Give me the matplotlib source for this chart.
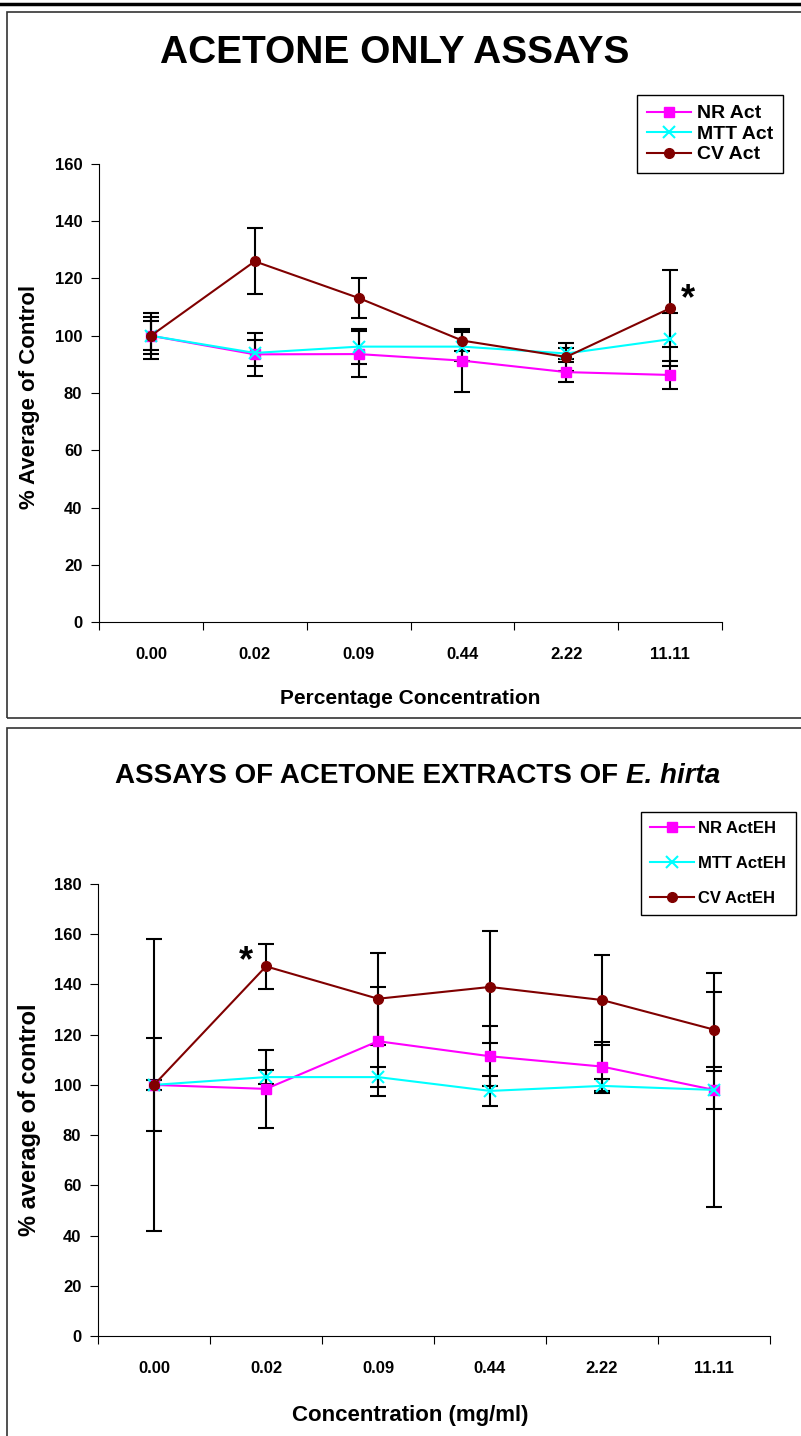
import matplotlib
matplotlib.use('Agg')
import matplotlib.pyplot as plt
from matplotlib.patches import Rectangle
from matplotlib.lines import Line2D

plt.rcParams['font.family'] = ['Liberation Sans', 'DejaVu Sans']
plt.rcParams['font.weight'] = 'bold'

conc_labels = ['0.00', '0.02', '0.09', '0.44', '2.22', '11.11']

# acetone only (percentage concentration)
nr_act = [100, 93.5, 93.6, 91.3, 87.3, 86.3]
nr_act_err = [5, 7.5, 8, 11, 3.5, 5]
mtt_act = [100, 94, 96.2, 96.2, 93.8, 98.8]
mtt_act_err = [6.5, 4.5, 6, 5, 2, 9.2]
cv_act = [100, 126, 113.2, 98.3, 92.6, 109.6]
cv_act_err = [8, 11.5, 7, 3.5, 5, 13.5]

# acetone extracts of E. hirta (mg/ml)
nr_eh = [100, 98.4, 117.4, 111.4, 107.3, 98]
nr_eh_err = [18.5, 15.5, 21.7, 12, 9.9, 46.5]
mtt_eh = [100, 103.1, 103.1, 97.6, 99.6, 98]
mtt_eh_err = [2, 2.7, 4, 6.1, 2.7, 7.5]
cv_eh = [100, 147.2, 134.3, 139, 133.8, 122]
cv_eh_err = [58, 9, 18.3, 22.3, 18, 15]

W, H = 801, 1436
fig = plt.figure(figsize=(W / 100, H / 100), dpi=100)


def fx(px):
    return px / W


def fy(py):
    return 1 - py / H


# panel frames
fig.add_artist(Line2D([0, 1], [fy(4), fy(4)], transform=fig.transFigure, color='black', lw=2.5))
fig.add_artist(Rectangle((fx(7), fy(718)), 1.1, fy(12) - fy(718), transform=fig.transFigure,
                         fill=False, edgecolor='#333333', lw=1.2))
fig.add_artist(Rectangle((fx(7), fy(1460)), 1.1, fy(728) - fy(1460), transform=fig.transFigure,
                         fill=False, edgecolor='#333333', lw=1.2))

styles = [
    dict(color='magenta', marker='s', ms=7, mec='magenta'),
    dict(color='cyan', marker='x', ms=8, mew=1.5),
    dict(color='#800000', marker='o', ms=7),
]


def draw_panel(ax, series, errs, names, ymax, ystep):
    x = list(range(len(conc_labels)))
    for vals, err in zip(series, errs):
        ax.errorbar(x, vals, yerr=err, fmt='none', ecolor='black', elinewidth=1.5,
                    capsize=6, capthick=1.5, zorder=2)
    handles = []
    for vals, st, name in zip(series, styles, names):
        h, = ax.plot(x, vals, lw=1.5, label=name, zorder=3, **st)
        handles.append(h)
    ax.set_xlim(-0.5, len(conc_labels) - 0.5)
    ax.set_ylim(0, ymax)
    ax.set_yticks(range(0, ymax + 1, ystep))
    ax.set_xticks([i - 0.5 for i in range(len(conc_labels) + 1)])
    ax.set_xticklabels([])
    ax.set_xticks(x, minor=True)
    ax.set_xticklabels(conc_labels, minor=True)
    ax.tick_params(axis='x', which='minor', length=0, pad=18, labelsize=12)
    ax.tick_params(axis='x', which='major', length=6, direction='out')
    ax.tick_params(axis='y', length=6, direction='out', labelsize=12, pad=6)
    for lab in ax.get_xticklabels(minor=True) + ax.get_yticklabels():
        lab.set_fontweight('bold')
    ax.spines['top'].set_visible(False)
    ax.spines['right'].set_visible(False)
    return handles


# top panel
ax1 = fig.add_axes([fx(99), fy(622), fx(722) - fx(99), fy(164) - fy(622)])
h1 = draw_panel(ax1, [nr_act, mtt_act, cv_act], [nr_act_err, mtt_act_err, cv_act_err],
                ['NR Act', 'MTT Act', 'CV Act'], 160, 20)
ax1.text(5.1, cv_act[5] + 3, '*', fontsize=26, fontweight='bold', ha='left', va='center')
fig.text(fx(395), fy(53), 'ACETONE ONLY ASSAYS', fontsize=28, fontweight='bold', ha='center', va='center')
fig.text(fx(30), fy(397), '% Average of Control', fontsize=16, fontweight='bold', rotation=90,
         ha='center', va='center')
fig.text(fx(410), fy(699), 'Percentage Concentration', fontsize=15, fontweight='bold', ha='center', va='center')
fig.legend(handles=h1, loc='upper left', bbox_to_anchor=(fx(637), fy(95)), bbox_transform=fig.transFigure,
           borderaxespad=0, fancybox=False, edgecolor='black', framealpha=1,
           handlelength=2.3, labelspacing=0.15, handletextpad=0.3, borderpad=0.5,
           prop={'weight': 'bold', 'size': 14})

# bottom panel
ax2 = fig.add_axes([fx(98), fy(1336), fx(770) - fx(98), fy(884) - fy(1336)])
h2 = draw_panel(ax2, [nr_eh, mtt_eh, cv_eh], [nr_eh_err, mtt_eh_err, cv_eh_err],
                ['NR ActEH', 'MTT ActEH', 'CV ActEH'], 180, 20)
ax2.text(0.88, cv_eh[1] + 2, '*', fontsize=26, fontweight='bold', ha='right', va='center')

t_main = fig.text(fx(115), fy(776), 'ASSAYS OF ACETONE EXTRACTS OF ', fontsize=20,
                  fontweight='bold', ha='left', va='center')
renderer = fig.canvas.get_renderer()
bb = t_main.get_window_extent(renderer=renderer)
fig.text(bb.x1 / fig.bbox.width, fy(776), 'E. hirta', fontsize=20, fontweight='bold',
         fontstyle='italic', ha='left', va='center')

fig.text(fx(30), fy(1120), '% average of control', fontsize=17, fontweight='bold', rotation=90,
         ha='center', va='center')
fig.text(fx(410), fy(1416), 'Concentration (mg/ml)', fontsize=16, fontweight='bold', ha='center', va='center')
fig.legend(handles=h2, loc='upper left', bbox_to_anchor=(fx(641), fy(812)), bbox_transform=fig.transFigure,
           borderaxespad=0, fancybox=False, edgecolor='black', framealpha=1,
           handlelength=2.6, labelspacing=1.2, handletextpad=0.3, borderpad=0.55,
           prop={'weight': 'bold', 'size': 12})

fig.savefig('out.png', dpi=100)
